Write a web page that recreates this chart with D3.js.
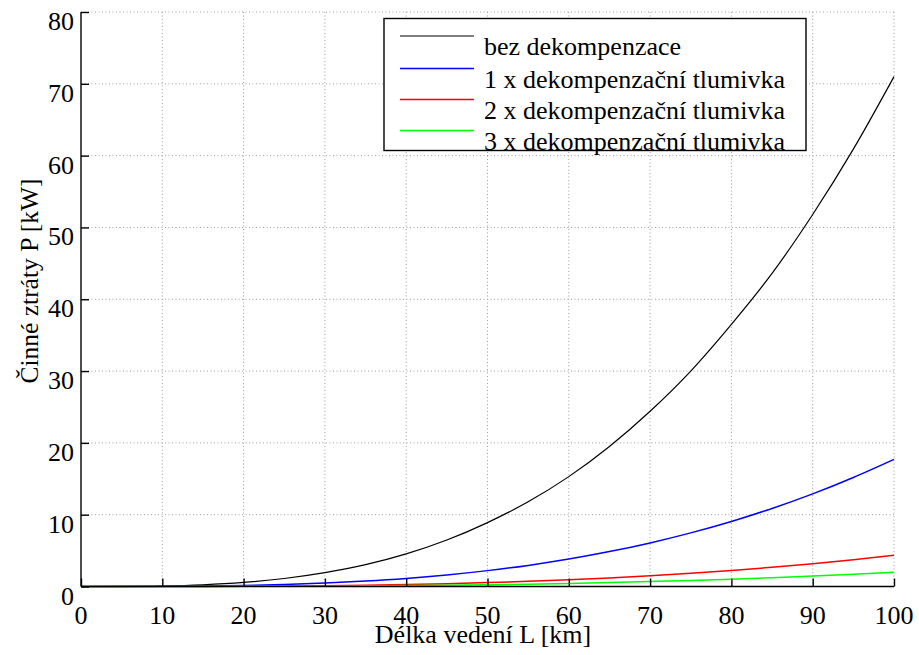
<!DOCTYPE html>
<html><head><meta charset="utf-8">
<script src="https://cdn.jsdelivr.net/npm/d3@7"></script>
<style>
html,body{margin:0;padding:0;background:#fff;}
svg{display:block;}
text{font-family:"Liberation Serif","Times New Roman",serif;fill:#000;}
</style></head>
<body>
<script>
// Data
const lengthKm = [0,5,10,15,20,25,30,35,40,45,50,55,60,65,70,75,80,85,90,95,100];
const lossNone  = [0,0.01,0.07,0.24,0.57,1.11,1.92,3.04,4.54,6.47,8.9,11.8,15.3,19.5,24.4,30.0,36.5,43.6,51.8,60.9,71.0];
const lossOne   = [0,0,0.02,0.06,0.14,0.28,0.48,0.76,1.13,1.61,2.21,2.94,3.82,4.86,6.07,7.47,9.06,10.87,12.9,15.18,17.7];
const lossTwo   = [0,0,0,0.01,0.03,0.07,0.12,0.19,0.28,0.4,0.54,0.72,0.94,1.19,1.49,1.84,2.23,2.67,3.17,3.73,4.35];
const lossThree = [0,0,0,0.01,0.02,0.03,0.05,0.09,0.13,0.18,0.25,0.33,0.43,0.55,0.69,0.84,1.02,1.23,1.46,1.71,2.0];
const seriesNames = ["bez dekompenzace","1 x dekompenzační tlumivka","2 x dekompenzační tlumivka","3 x dekompenzační tlumivka"];
const seriesColors = ["#000000","#0000ff","#ff0000","#00ff00"];
const xTicks = [0,10,20,30,40,50,60,70,80,90,100];
const yTicks = [0,10,20,30,40,50,60,70,80];
const xLabel = "Délka vedení L [km]";
const yLabel = "Činné ztráty P [kW]";

const W = 919, H = 655;
const m = {left:81, right:894, top:12, bottom:586.5};
const svg = d3.select("body").append("svg").attr("width",W).attr("height",H);

const x = d3.scaleLinear().domain([0,100]).range([m.left,m.right]);
const y = d3.scaleLinear().domain([0,80]).range([m.bottom,m.top]);

// grid
const grid = svg.append("g").attr("stroke","#a0a0a0").attr("stroke-width",1).attr("stroke-dasharray","1,2.5").attr("fill","none");
xTicks.filter(d=>d>0).forEach(d=>{
  grid.append("line").attr("x1",x(d)).attr("x2",x(d)).attr("y1",m.top).attr("y2",m.bottom);
});
yTicks.filter(d=>d>0).forEach(d=>{
  grid.append("line").attr("x1",m.left).attr("x2",m.right).attr("y1",y(d)).attr("y2",y(d));
});

// series
const allSeries = [lossNone, lossOne, lossTwo, lossThree];
const line = d3.line().x((d,i)=>x(lengthKm[i])).y(d=>y(d)).curve(d3.curveMonotoneX);
allSeries.forEach((s,k)=>{
  svg.append("path").datum(s).attr("d",line).attr("fill","none")
    .attr("stroke",seriesColors[k]).attr("stroke-width",k===0?1.2:1.5);
});

// axes (ticks inward)
const axX = d3.axisBottom(x).tickValues(xTicks).tickSize(-8).tickFormat("");
const axY = d3.axisLeft(y).tickValues(yTicks).tickSize(-8).tickFormat("");
const gx = svg.append("g").attr("transform",`translate(0,${m.bottom})`).call(axX);
const gy = svg.append("g").attr("transform",`translate(${m.left},0)`).call(axY);
[gx,gy].forEach(g=>{
  g.select(".domain").attr("stroke","#000").attr("stroke-width",1.4);
  g.selectAll(".tick line").attr("stroke","#000").attr("stroke-width",1.4);
});
gx.select(".domain").attr("d",`M${m.left},0H${m.right}`);
gy.select(".domain").attr("d",`M0,${m.bottom}V${m.top}`);

// tick labels
svg.append("g").selectAll("text").data(xTicks).join("text")
  .attr("x",d=>x(d)).attr("y",624).attr("text-anchor","middle")
  .attr("font-size",26).text(d=>d);
svg.append("g").selectAll("text").data(yTicks).join("text")
  .attr("x",74).attr("y",d=>y(d)+18).attr("text-anchor","end")
  .attr("font-size",26).text(d=>d);

// axis labels
svg.append("text").attr("x",483).attr("y",643).attr("text-anchor","middle")
  .attr("font-size",26).text(xLabel);
svg.append("text").attr("transform","translate(38,281) rotate(-90)").attr("text-anchor","middle")
  .attr("font-size",25.5).text(yLabel);

// legend
const lg = svg.append("g");
lg.append("rect").attr("x",384).attr("y",18.5).attr("width",422).attr("height",132)
  .attr("fill","#fff").attr("stroke","#000").attr("stroke-width",1.4);
const lineYs = [36,68.5,99.5,130.5];
seriesNames.forEach((n,k)=>{
  lg.append("line").attr("x1",400).attr("x2",474).attr("y1",lineYs[k]).attr("y2",lineYs[k])
    .attr("stroke",seriesColors[k]).attr("stroke-width",k===0?1.2:1.5);
  lg.append("text").attr("x",484).attr("y",lineYs[k]+19).attr("font-size",26).text(n);
});
</script>
</body></html>
